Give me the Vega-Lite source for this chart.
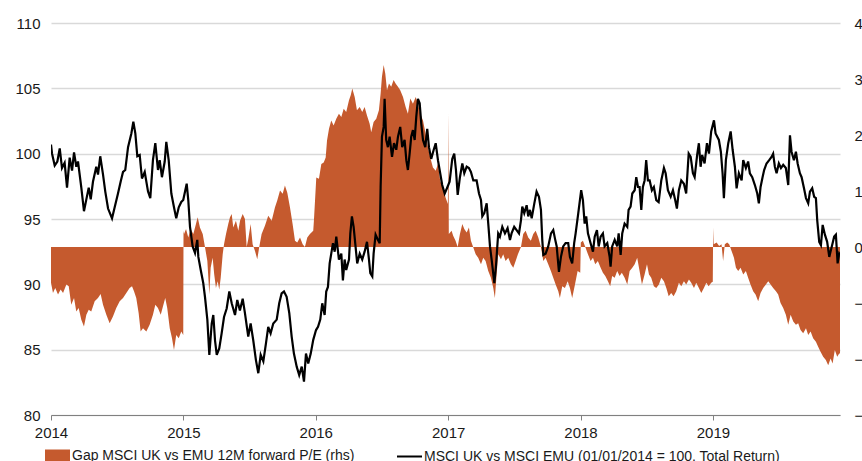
{
  "$schema": "https://vega.github.io/schema/vega-lite/v6.json",
  "width": 789,
  "height": 392,
  "autosize": "none",
  "padding": {"left": 51, "top": 23, "right": 22, "bottom": 46},
  "background": "white",
  "config": {
    "font": "Liberation Sans",
    "view": {"stroke": null},
    "axis": {"labelFont": "Liberation Sans", "labelFontSize": 15, "labelColor": "#1a1a1a", "title": null},
    "legend": {"labelFont": "Liberation Sans", "labelFontSize": 14, "labelColor": "#1a1a1a", "labelLimit": 0}
  },
  "datasets": {
    "line": [
      {"year": 2014.000, "value": 100.7}, {"year": 2014.008, "value": 100.0}, {"year": 2014.028, "value": 99.1}, {"year": 2014.048, "value": 99.4},
      {"year": 2014.066, "value": 100.4}, {"year": 2014.083, "value": 98.9}, {"year": 2014.103, "value": 99.3}, {"year": 2014.121, "value": 97.4},
      {"year": 2014.141, "value": 99.7}, {"year": 2014.159, "value": 98.7}, {"year": 2014.174, "value": 100.1}, {"year": 2014.191, "value": 99.0},
      {"year": 2014.204, "value": 99.4}, {"year": 2014.229, "value": 97.4}, {"year": 2014.249, "value": 95.6}, {"year": 2014.267, "value": 96.5},
      {"year": 2014.285, "value": 97.4}, {"year": 2014.300, "value": 96.5}, {"year": 2014.317, "value": 97.85}, {"year": 2014.342, "value": 99.0},
      {"year": 2014.355, "value": 98.4}, {"year": 2014.372, "value": 99.8}, {"year": 2014.393, "value": 98.4}, {"year": 2014.410, "value": 97.1},
      {"year": 2014.431, "value": 95.8}, {"year": 2014.461, "value": 95.05}, {"year": 2014.481, "value": 95.9}, {"year": 2014.506, "value": 96.95},
      {"year": 2014.526, "value": 97.85}, {"year": 2014.544, "value": 98.6}, {"year": 2014.561, "value": 98.75}, {"year": 2014.582, "value": 100.5},
      {"year": 2014.607, "value": 101.55}, {"year": 2014.622, "value": 102.45}, {"year": 2014.637, "value": 101.55}, {"year": 2014.652, "value": 99.8},
      {"year": 2014.670, "value": 99.9}, {"year": 2014.687, "value": 98.1}, {"year": 2014.708, "value": 98.6}, {"year": 2014.733, "value": 97.1},
      {"year": 2014.750, "value": 96.6}, {"year": 2014.770, "value": 99.5}, {"year": 2014.788, "value": 100.8}, {"year": 2014.808, "value": 98.75},
      {"year": 2014.821, "value": 99.5}, {"year": 2014.838, "value": 98.2}, {"year": 2014.859, "value": 99.4}, {"year": 2014.871, "value": 100.9},
      {"year": 2014.889, "value": 99.5}, {"year": 2014.909, "value": 96.95}, {"year": 2014.929, "value": 95.9}, {"year": 2014.946, "value": 95.05},
      {"year": 2014.965, "value": 95.9}, {"year": 2014.984, "value": 96.3}, {"year": 2014.999, "value": 96.45}, {"year": 2015.025, "value": 97.7},
      {"year": 2015.037, "value": 96.45}, {"year": 2015.050, "value": 94.4}, {"year": 2015.070, "value": 92.9}, {"year": 2015.088, "value": 92.4},
      {"year": 2015.105, "value": 93.4}, {"year": 2015.113, "value": 92.1}, {"year": 2015.131, "value": 91.1}, {"year": 2015.150, "value": 90.1},
      {"year": 2015.163, "value": 89.05}, {"year": 2015.181, "value": 87.3}, {"year": 2015.196, "value": 84.6}, {"year": 2015.214, "value": 87.0},
      {"year": 2015.226, "value": 87.65}, {"year": 2015.239, "value": 85.7}, {"year": 2015.252, "value": 84.6}, {"year": 2015.271, "value": 85.1},
      {"year": 2015.289, "value": 86.25}, {"year": 2015.307, "value": 87.5}, {"year": 2015.327, "value": 88.15}, {"year": 2015.347, "value": 89.45},
      {"year": 2015.365, "value": 88.55}, {"year": 2015.390, "value": 87.65}, {"year": 2015.407, "value": 88.8}, {"year": 2015.427, "value": 88.0},
      {"year": 2015.448, "value": 88.9}, {"year": 2015.465, "value": 87.8}, {"year": 2015.490, "value": 86.0}, {"year": 2015.508, "value": 87.0},
      {"year": 2015.528, "value": 85.7}, {"year": 2015.548, "value": 84.2}, {"year": 2015.566, "value": 83.2}, {"year": 2015.584, "value": 84.6},
      {"year": 2015.604, "value": 84.1}, {"year": 2015.624, "value": 85.5}, {"year": 2015.641, "value": 86.75}, {"year": 2015.659, "value": 86.25},
      {"year": 2015.679, "value": 87.0}, {"year": 2015.705, "value": 87.3}, {"year": 2015.724, "value": 88.55}, {"year": 2015.742, "value": 89.3},
      {"year": 2015.760, "value": 89.45}, {"year": 2015.780, "value": 89.05}, {"year": 2015.800, "value": 87.8}, {"year": 2015.818, "value": 86.0},
      {"year": 2015.835, "value": 84.7}, {"year": 2015.856, "value": 83.7}, {"year": 2015.875, "value": 83.05}, {"year": 2015.894, "value": 83.7},
      {"year": 2015.911, "value": 82.55}, {"year": 2015.926, "value": 84.7}, {"year": 2015.943, "value": 83.95}, {"year": 2015.962, "value": 84.7},
      {"year": 2015.981, "value": 85.75}, {"year": 2016.002, "value": 86.5}, {"year": 2016.017, "value": 86.75}, {"year": 2016.034, "value": 87.3},
      {"year": 2016.049, "value": 88.55}, {"year": 2016.067, "value": 87.65}, {"year": 2016.079, "value": 89.45}, {"year": 2016.092, "value": 89.8},
      {"year": 2016.105, "value": 91.6}, {"year": 2016.117, "value": 92.35}, {"year": 2016.130, "value": 93.15}, {"year": 2016.143, "value": 92.5},
      {"year": 2016.155, "value": 93.65}, {"year": 2016.175, "value": 91.9}, {"year": 2016.193, "value": 92.35}, {"year": 2016.205, "value": 90.3},
      {"year": 2016.218, "value": 91.9}, {"year": 2016.230, "value": 91.1}, {"year": 2016.251, "value": 91.9}, {"year": 2016.261, "value": 93.9},
      {"year": 2016.273, "value": 95.2}, {"year": 2016.286, "value": 94.4}, {"year": 2016.298, "value": 93.15}, {"year": 2016.313, "value": 91.6},
      {"year": 2016.332, "value": 92.35}, {"year": 2016.351, "value": 91.9}, {"year": 2016.369, "value": 92.5}, {"year": 2016.387, "value": 93.25},
      {"year": 2016.402, "value": 91.9}, {"year": 2016.412, "value": 90.85}, {"year": 2016.427, "value": 90.6}, {"year": 2016.437, "value": 92.35},
      {"year": 2016.452, "value": 93.8}, {"year": 2016.470, "value": 93.4}, {"year": 2016.483, "value": 93.15}, {"year": 2016.490, "value": 97.5},
      {"year": 2016.500, "value": 101.3}, {"year": 2016.513, "value": 102.05}, {"year": 2016.520, "value": 104.2}, {"year": 2016.532, "value": 101.05},
      {"year": 2016.545, "value": 100.5}, {"year": 2016.558, "value": 101.3}, {"year": 2016.576, "value": 99.75}, {"year": 2016.591, "value": 100.8},
      {"year": 2016.608, "value": 100.3}, {"year": 2016.621, "value": 101.3}, {"year": 2016.638, "value": 102.05}, {"year": 2016.653, "value": 100.5},
      {"year": 2016.671, "value": 101.05}, {"year": 2016.684, "value": 99.5}, {"year": 2016.696, "value": 98.75}, {"year": 2016.709, "value": 100.0},
      {"year": 2016.721, "value": 101.3}, {"year": 2016.734, "value": 101.8}, {"year": 2016.747, "value": 101.05}, {"year": 2016.759, "value": 102.8},
      {"year": 2016.772, "value": 104.2}, {"year": 2016.785, "value": 103.85}, {"year": 2016.797, "value": 102.3}, {"year": 2016.810, "value": 101.05},
      {"year": 2016.827, "value": 100.5}, {"year": 2016.842, "value": 101.9}, {"year": 2016.855, "value": 100.5}, {"year": 2016.872, "value": 99.6},
      {"year": 2016.891, "value": 100.3}, {"year": 2016.906, "value": 100.8}, {"year": 2016.923, "value": 99.5}, {"year": 2016.940, "value": 98.5},
      {"year": 2016.955, "value": 97.6}, {"year": 2016.974, "value": 96.95}, {"year": 2016.991, "value": 97.35}, {"year": 2017.011, "value": 97.85},
      {"year": 2017.031, "value": 99.6}, {"year": 2017.046, "value": 100.0}, {"year": 2017.059, "value": 98.75}, {"year": 2017.072, "value": 96.85},
      {"year": 2017.089, "value": 98.2}, {"year": 2017.107, "value": 99.25}, {"year": 2017.122, "value": 98.5}, {"year": 2017.140, "value": 99.0},
      {"year": 2017.157, "value": 98.9}, {"year": 2017.172, "value": 98.6}, {"year": 2017.190, "value": 97.95}, {"year": 2017.215, "value": 97.95},
      {"year": 2017.233, "value": 96.95}, {"year": 2017.248, "value": 96.45}, {"year": 2017.258, "value": 95.2}, {"year": 2017.273, "value": 95.45},
      {"year": 2017.291, "value": 96.2}, {"year": 2017.303, "value": 94.65}, {"year": 2017.316, "value": 92.9}, {"year": 2017.329, "value": 91.85},
      {"year": 2017.349, "value": 90.1}, {"year": 2017.361, "value": 91.35}, {"year": 2017.378, "value": 93.9}, {"year": 2017.391, "value": 93.65},
      {"year": 2017.409, "value": 94.4}, {"year": 2017.429, "value": 93.9}, {"year": 2017.449, "value": 94.3}, {"year": 2017.467, "value": 93.4},
      {"year": 2017.479, "value": 93.9}, {"year": 2017.499, "value": 94.4}, {"year": 2017.517, "value": 94.15}, {"year": 2017.535, "value": 93.9},
      {"year": 2017.550, "value": 94.9}, {"year": 2017.560, "value": 95.95}, {"year": 2017.575, "value": 95.45}, {"year": 2017.593, "value": 96.05},
      {"year": 2017.605, "value": 95.2}, {"year": 2017.618, "value": 95.7}, {"year": 2017.631, "value": 95.05}, {"year": 2017.651, "value": 96.2},
      {"year": 2017.668, "value": 97.1}, {"year": 2017.686, "value": 96.7}, {"year": 2017.701, "value": 95.7}, {"year": 2017.711, "value": 93.4},
      {"year": 2017.719, "value": 92.25}, {"year": 2017.736, "value": 92.35}, {"year": 2017.756, "value": 92.9}, {"year": 2017.777, "value": 93.9},
      {"year": 2017.794, "value": 94.15}, {"year": 2017.807, "value": 93.5}, {"year": 2017.820, "value": 92.9}, {"year": 2017.837, "value": 90.95},
      {"year": 2017.852, "value": 92.1}, {"year": 2017.869, "value": 92.9}, {"year": 2017.887, "value": 93.15}, {"year": 2017.907, "value": 93.15},
      {"year": 2017.920, "value": 92.1}, {"year": 2017.937, "value": 91.6}, {"year": 2017.952, "value": 93.15}, {"year": 2017.963, "value": 93.9},
      {"year": 2017.983, "value": 95.45}, {"year": 2018.005, "value": 97.2}, {"year": 2018.018, "value": 96.45}, {"year": 2018.031, "value": 94.65},
      {"year": 2018.043, "value": 95.2}, {"year": 2018.056, "value": 93.9}, {"year": 2018.076, "value": 93.15}, {"year": 2018.094, "value": 92.5},
      {"year": 2018.107, "value": 93.65}, {"year": 2018.124, "value": 94.15}, {"year": 2018.137, "value": 92.9}, {"year": 2018.152, "value": 93.65},
      {"year": 2018.169, "value": 93.9}, {"year": 2018.182, "value": 92.9}, {"year": 2018.202, "value": 93.15}, {"year": 2018.220, "value": 92.1},
      {"year": 2018.227, "value": 91.35}, {"year": 2018.239, "value": 92.9}, {"year": 2018.258, "value": 93.4}, {"year": 2018.277, "value": 92.9},
      {"year": 2018.288, "value": 93.9}, {"year": 2018.303, "value": 92.25}, {"year": 2018.315, "value": 93.9}, {"year": 2018.333, "value": 94.65},
      {"year": 2018.353, "value": 94.4}, {"year": 2018.363, "value": 95.7}, {"year": 2018.378, "value": 95.95}, {"year": 2018.391, "value": 96.95},
      {"year": 2018.409, "value": 97.2}, {"year": 2018.421, "value": 98.2}, {"year": 2018.434, "value": 97.45}, {"year": 2018.446, "value": 97.45},
      {"year": 2018.459, "value": 95.7}, {"year": 2018.471, "value": 97.45}, {"year": 2018.484, "value": 97.95}, {"year": 2018.496, "value": 99.5},
      {"year": 2018.509, "value": 97.95}, {"year": 2018.522, "value": 97.95}, {"year": 2018.539, "value": 97.2}, {"year": 2018.554, "value": 97.45},
      {"year": 2018.572, "value": 96.45}, {"year": 2018.590, "value": 96.3}, {"year": 2018.610, "value": 97.95}, {"year": 2018.630, "value": 98.9},
      {"year": 2018.643, "value": 98.5}, {"year": 2018.660, "value": 97.2}, {"year": 2018.681, "value": 96.7}, {"year": 2018.698, "value": 97.2},
      {"year": 2018.715, "value": 96.45}, {"year": 2018.728, "value": 95.8}, {"year": 2018.743, "value": 97.2}, {"year": 2018.761, "value": 97.95},
      {"year": 2018.781, "value": 97.7}, {"year": 2018.798, "value": 96.95}, {"year": 2018.817, "value": 100.0}, {"year": 2018.832, "value": 99.75},
      {"year": 2018.849, "value": 98.5}, {"year": 2018.862, "value": 98.2}, {"year": 2018.881, "value": 99.9}, {"year": 2018.894, "value": 100.8},
      {"year": 2018.907, "value": 99.0}, {"year": 2018.919, "value": 99.9}, {"year": 2018.937, "value": 99.25}, {"year": 2018.955, "value": 100.8},
      {"year": 2018.970, "value": 100.0}, {"year": 2018.987, "value": 101.7}, {"year": 2019.008, "value": 102.55}, {"year": 2019.020, "value": 101.55},
      {"year": 2019.045, "value": 101.05}, {"year": 2019.060, "value": 100.15}, {"year": 2019.073, "value": 98.5}, {"year": 2019.083, "value": 96.6},
      {"year": 2019.098, "value": 99.5}, {"year": 2019.116, "value": 100.8}, {"year": 2019.134, "value": 101.7}, {"year": 2019.149, "value": 100.3},
      {"year": 2019.166, "value": 99.0}, {"year": 2019.179, "value": 97.35}, {"year": 2019.196, "value": 98.5}, {"year": 2019.217, "value": 97.95},
      {"year": 2019.229, "value": 99.5}, {"year": 2019.249, "value": 98.9}, {"year": 2019.266, "value": 99.4}, {"year": 2019.279, "value": 98.5},
      {"year": 2019.297, "value": 98.2}, {"year": 2019.317, "value": 97.6}, {"year": 2019.335, "value": 96.95}, {"year": 2019.347, "value": 96.2},
      {"year": 2019.360, "value": 97.45}, {"year": 2019.375, "value": 98.2}, {"year": 2019.387, "value": 98.75}, {"year": 2019.405, "value": 99.25},
      {"year": 2019.425, "value": 99.5}, {"year": 2019.443, "value": 99.75}, {"year": 2019.455, "value": 100.0}, {"year": 2019.468, "value": 99.0},
      {"year": 2019.481, "value": 98.5}, {"year": 2019.498, "value": 99.25}, {"year": 2019.514, "value": 98.9}, {"year": 2019.531, "value": 99.15},
      {"year": 2019.551, "value": 98.9}, {"year": 2019.569, "value": 97.6}, {"year": 2019.582, "value": 101.4}, {"year": 2019.594, "value": 100.15},
      {"year": 2019.612, "value": 99.5}, {"year": 2019.627, "value": 100.15}, {"year": 2019.640, "value": 99.25}, {"year": 2019.657, "value": 98.5},
      {"year": 2019.670, "value": 98.2}, {"year": 2019.688, "value": 97.35}, {"year": 2019.703, "value": 96.6}, {"year": 2019.720, "value": 96.2},
      {"year": 2019.733, "value": 97.1}, {"year": 2019.750, "value": 97.35}, {"year": 2019.765, "value": 96.7}, {"year": 2019.778, "value": 96.6},
      {"year": 2019.788, "value": 94.9}, {"year": 2019.803, "value": 93.25}, {"year": 2019.816, "value": 93.0}, {"year": 2019.829, "value": 94.55},
      {"year": 2019.846, "value": 93.8}, {"year": 2019.863, "value": 93.25}, {"year": 2019.879, "value": 92.1}, {"year": 2019.891, "value": 92.6},
      {"year": 2019.904, "value": 93.15}, {"year": 2019.916, "value": 93.65}, {"year": 2019.929, "value": 93.8}, {"year": 2019.942, "value": 91.6},
      {"year": 2019.954, "value": 92.35}, {"year": 2019.960, "value": 92.25}
    ],
    "gap": [
      {"year": 2014.000, "gap": -0.64}, {"year": 2014.015, "gap": -0.82}, {"year": 2014.032, "gap": -0.73}, {"year": 2014.053, "gap": -0.85},
      {"year": 2014.073, "gap": -0.76}, {"year": 2014.091, "gap": -0.82}, {"year": 2014.116, "gap": -0.67}, {"year": 2014.134, "gap": -0.70},
      {"year": 2014.153, "gap": -1.03}, {"year": 2014.174, "gap": -0.91}, {"year": 2014.191, "gap": -1.15}, {"year": 2014.209, "gap": -1.09},
      {"year": 2014.229, "gap": -1.30}, {"year": 2014.249, "gap": -1.42}, {"year": 2014.267, "gap": -1.21}, {"year": 2014.285, "gap": -1.12},
      {"year": 2014.304, "gap": -1.15}, {"year": 2014.330, "gap": -0.97}, {"year": 2014.355, "gap": -0.91}, {"year": 2014.375, "gap": -0.84},
      {"year": 2014.393, "gap": -1.03}, {"year": 2014.418, "gap": -1.21}, {"year": 2014.443, "gap": -1.36}, {"year": 2014.468, "gap": -1.24},
      {"year": 2014.493, "gap": -1.09}, {"year": 2014.519, "gap": -0.97}, {"year": 2014.544, "gap": -0.91}, {"year": 2014.569, "gap": -0.82},
      {"year": 2014.594, "gap": -0.73}, {"year": 2014.612, "gap": -0.70}, {"year": 2014.627, "gap": -0.79}, {"year": 2014.644, "gap": -0.91},
      {"year": 2014.662, "gap": -1.18}, {"year": 2014.677, "gap": -1.51}, {"year": 2014.695, "gap": -1.45}, {"year": 2014.720, "gap": -1.51},
      {"year": 2014.745, "gap": -1.39}, {"year": 2014.770, "gap": -1.21}, {"year": 2014.788, "gap": -1.03}, {"year": 2014.808, "gap": -1.09},
      {"year": 2014.829, "gap": -1.21}, {"year": 2014.846, "gap": -1.06}, {"year": 2014.863, "gap": -0.91}, {"year": 2014.878, "gap": -1.09},
      {"year": 2014.897, "gap": -1.45}, {"year": 2014.914, "gap": -1.63}, {"year": 2014.929, "gap": -1.84}, {"year": 2014.946, "gap": -1.57},
      {"year": 2014.965, "gap": -1.63}, {"year": 2014.984, "gap": -1.51}, {"year": 2014.999, "gap": -1.57}, {"year": 2015.001, "gap": 0.29},
      {"year": 2015.005, "gap": 0.23}, {"year": 2015.020, "gap": 0.32}, {"year": 2015.037, "gap": 0.17}, {"year": 2015.055, "gap": 0.32},
      {"year": 2015.075, "gap": 0.23}, {"year": 2015.095, "gap": 0.41}, {"year": 2015.108, "gap": 0.53}, {"year": 2015.125, "gap": 0.35},
      {"year": 2015.146, "gap": 0.23}, {"year": 2015.163, "gap": 0.0}, {"year": 2015.181, "gap": -0.25}, {"year": 2015.196, "gap": -0.85},
      {"year": 2015.206, "gap": -0.37}, {"year": 2015.221, "gap": -0.19}, {"year": 2015.233, "gap": -0.49}, {"year": 2015.246, "gap": -0.73},
      {"year": 2015.259, "gap": -0.61}, {"year": 2015.271, "gap": -0.76}, {"year": 2015.282, "gap": -0.55}, {"year": 2015.297, "gap": -0.13},
      {"year": 2015.307, "gap": 0.05}, {"year": 2015.322, "gap": 0.23}, {"year": 2015.339, "gap": 0.41}, {"year": 2015.352, "gap": 0.53},
      {"year": 2015.365, "gap": 0.59}, {"year": 2015.377, "gap": 0.35}, {"year": 2015.397, "gap": 0.47}, {"year": 2015.415, "gap": 0.29},
      {"year": 2015.428, "gap": 0.47}, {"year": 2015.448, "gap": 0.59}, {"year": 2015.465, "gap": 0.50}, {"year": 2015.478, "gap": 0.0},
      {"year": 2015.490, "gap": 0.14}, {"year": 2015.508, "gap": 0.41}, {"year": 2015.523, "gap": 0.05}, {"year": 2015.541, "gap": -0.07},
      {"year": 2015.558, "gap": -0.22}, {"year": 2015.573, "gap": 0.0}, {"year": 2015.591, "gap": 0.23}, {"year": 2015.616, "gap": 0.38},
      {"year": 2015.641, "gap": 0.56}, {"year": 2015.667, "gap": 0.47}, {"year": 2015.692, "gap": 0.71}, {"year": 2015.709, "gap": 0.83},
      {"year": 2015.730, "gap": 1.01}, {"year": 2015.750, "gap": 0.95}, {"year": 2015.767, "gap": 1.10}, {"year": 2015.785, "gap": 0.97},
      {"year": 2015.805, "gap": 0.71}, {"year": 2015.825, "gap": 0.41}, {"year": 2015.843, "gap": 0.11}, {"year": 2015.860, "gap": 0.08},
      {"year": 2015.881, "gap": 0.17}, {"year": 2015.901, "gap": 0.05}, {"year": 2015.918, "gap": 0.0}, {"year": 2015.936, "gap": 0.17},
      {"year": 2015.956, "gap": 0.23}, {"year": 2015.981, "gap": 0.29}, {"year": 2015.986, "gap": 0.47}, {"year": 2016.004, "gap": 1.24},
      {"year": 2016.024, "gap": 1.22}, {"year": 2016.042, "gap": 1.48}, {"year": 2016.060, "gap": 1.51}, {"year": 2016.075, "gap": 1.60},
      {"year": 2016.085, "gap": 1.90}, {"year": 2016.100, "gap": 2.11}, {"year": 2016.117, "gap": 2.26}, {"year": 2016.135, "gap": 2.17},
      {"year": 2016.155, "gap": 2.29}, {"year": 2016.175, "gap": 2.38}, {"year": 2016.193, "gap": 2.32}, {"year": 2016.211, "gap": 2.47},
      {"year": 2016.230, "gap": 2.41}, {"year": 2016.251, "gap": 2.62}, {"year": 2016.264, "gap": 2.71}, {"year": 2016.276, "gap": 2.83},
      {"year": 2016.294, "gap": 2.68}, {"year": 2016.311, "gap": 2.44}, {"year": 2016.332, "gap": 2.50}, {"year": 2016.351, "gap": 2.41},
      {"year": 2016.369, "gap": 2.50}, {"year": 2016.387, "gap": 2.35}, {"year": 2016.407, "gap": 2.20}, {"year": 2016.419, "gap": 2.05},
      {"year": 2016.437, "gap": 2.23}, {"year": 2016.457, "gap": 2.29}, {"year": 2016.477, "gap": 2.44}, {"year": 2016.490, "gap": 2.74},
      {"year": 2016.500, "gap": 3.04}, {"year": 2016.513, "gap": 3.25}, {"year": 2016.525, "gap": 3.10}, {"year": 2016.538, "gap": 2.80},
      {"year": 2016.553, "gap": 2.92}, {"year": 2016.570, "gap": 2.86}, {"year": 2016.588, "gap": 2.98}, {"year": 2016.603, "gap": 2.92},
      {"year": 2016.621, "gap": 2.86}, {"year": 2016.638, "gap": 2.80}, {"year": 2016.659, "gap": 2.68}, {"year": 2016.679, "gap": 2.50},
      {"year": 2016.696, "gap": 2.38}, {"year": 2016.714, "gap": 2.65}, {"year": 2016.734, "gap": 2.56}, {"year": 2016.755, "gap": 2.68},
      {"year": 2016.772, "gap": 2.56}, {"year": 2016.789, "gap": 2.38}, {"year": 2016.810, "gap": 2.26}, {"year": 2016.830, "gap": 2.02},
      {"year": 2016.847, "gap": 1.78}, {"year": 2016.865, "gap": 1.60}, {"year": 2016.885, "gap": 1.42}, {"year": 2016.906, "gap": 1.36},
      {"year": 2016.923, "gap": 1.48}, {"year": 2016.940, "gap": 1.18}, {"year": 2016.961, "gap": 1.06}, {"year": 2016.981, "gap": 0.88},
      {"year": 2016.998, "gap": 0.77}, {"year": 2017.002, "gap": 2.4}, {"year": 2017.005, "gap": 0.23}, {"year": 2017.026, "gap": 0.29},
      {"year": 2017.038, "gap": 0.20}, {"year": 2017.056, "gap": 0.11}, {"year": 2017.072, "gap": 0.0}, {"year": 2017.089, "gap": 0.23},
      {"year": 2017.107, "gap": 0.41}, {"year": 2017.122, "gap": 0.32}, {"year": 2017.140, "gap": 0.26}, {"year": 2017.157, "gap": 0.35},
      {"year": 2017.172, "gap": 0.11}, {"year": 2017.190, "gap": -0.01}, {"year": 2017.208, "gap": -0.13}, {"year": 2017.227, "gap": -0.19},
      {"year": 2017.248, "gap": -0.31}, {"year": 2017.265, "gap": -0.19}, {"year": 2017.283, "gap": -0.25}, {"year": 2017.303, "gap": -0.43},
      {"year": 2017.323, "gap": -0.55}, {"year": 2017.341, "gap": -0.73}, {"year": 2017.353, "gap": -0.91}, {"year": 2017.366, "gap": -0.49},
      {"year": 2017.378, "gap": -0.13}, {"year": 2017.399, "gap": -0.22}, {"year": 2017.416, "gap": -0.13}, {"year": 2017.434, "gap": -0.25},
      {"year": 2017.454, "gap": -0.19}, {"year": 2017.474, "gap": -0.31}, {"year": 2017.492, "gap": -0.37}, {"year": 2017.510, "gap": -0.25},
      {"year": 2017.527, "gap": -0.13}, {"year": 2017.550, "gap": 0.0}, {"year": 2017.567, "gap": 0.23}, {"year": 2017.585, "gap": 0.29},
      {"year": 2017.605, "gap": 0.17}, {"year": 2017.625, "gap": 0.11}, {"year": 2017.643, "gap": 0.23}, {"year": 2017.661, "gap": 0.29},
      {"year": 2017.681, "gap": 0.17}, {"year": 2017.701, "gap": 0.0}, {"year": 2017.719, "gap": -0.25}, {"year": 2017.736, "gap": -0.19},
      {"year": 2017.756, "gap": -0.31}, {"year": 2017.776, "gap": -0.43}, {"year": 2017.794, "gap": -0.55}, {"year": 2017.812, "gap": -0.67},
      {"year": 2017.832, "gap": -0.79}, {"year": 2017.844, "gap": -0.91}, {"year": 2017.862, "gap": -0.70}, {"year": 2017.882, "gap": -0.73},
      {"year": 2017.903, "gap": -0.61}, {"year": 2017.920, "gap": -0.73}, {"year": 2017.937, "gap": -0.91}, {"year": 2017.958, "gap": -0.67},
      {"year": 2017.978, "gap": -0.43}, {"year": 2017.998, "gap": -0.46}, {"year": 2018.002, "gap": 0.08}, {"year": 2018.018, "gap": 0.11},
      {"year": 2018.036, "gap": 0.0}, {"year": 2018.056, "gap": -0.13}, {"year": 2018.076, "gap": -0.25}, {"year": 2018.094, "gap": -0.19},
      {"year": 2018.111, "gap": -0.31}, {"year": 2018.131, "gap": -0.25}, {"year": 2018.152, "gap": -0.37}, {"year": 2018.169, "gap": -0.46},
      {"year": 2018.187, "gap": -0.52}, {"year": 2018.207, "gap": -0.61}, {"year": 2018.224, "gap": -0.70}, {"year": 2018.239, "gap": -0.52},
      {"year": 2018.258, "gap": -0.55}, {"year": 2018.277, "gap": -0.43}, {"year": 2018.295, "gap": -0.52}, {"year": 2018.312, "gap": -0.46},
      {"year": 2018.333, "gap": -0.55}, {"year": 2018.353, "gap": -0.67}, {"year": 2018.371, "gap": -0.43}, {"year": 2018.391, "gap": -0.37},
      {"year": 2018.409, "gap": -0.31}, {"year": 2018.428, "gap": -0.19}, {"year": 2018.446, "gap": -0.43}, {"year": 2018.464, "gap": -0.67},
      {"year": 2018.484, "gap": -0.49}, {"year": 2018.502, "gap": -0.31}, {"year": 2018.517, "gap": -0.49}, {"year": 2018.534, "gap": -0.55},
      {"year": 2018.554, "gap": -0.70}, {"year": 2018.572, "gap": -0.73}, {"year": 2018.592, "gap": -0.67}, {"year": 2018.610, "gap": -0.55},
      {"year": 2018.630, "gap": -0.61}, {"year": 2018.648, "gap": -0.73}, {"year": 2018.666, "gap": -0.88}, {"year": 2018.685, "gap": -0.82},
      {"year": 2018.703, "gap": -0.88}, {"year": 2018.723, "gap": -0.79}, {"year": 2018.743, "gap": -0.64}, {"year": 2018.761, "gap": -0.70},
      {"year": 2018.781, "gap": -0.61}, {"year": 2018.798, "gap": -0.67}, {"year": 2018.819, "gap": -0.58}, {"year": 2018.836, "gap": -0.64},
      {"year": 2018.857, "gap": -0.73}, {"year": 2018.874, "gap": -0.64}, {"year": 2018.894, "gap": -0.73}, {"year": 2018.912, "gap": -0.82},
      {"year": 2018.932, "gap": -0.73}, {"year": 2018.950, "gap": -0.64}, {"year": 2018.968, "gap": -0.70}, {"year": 2018.987, "gap": -0.64},
      {"year": 2018.999, "gap": -0.62}, {"year": 2019.002, "gap": 0.35}, {"year": 2019.006, "gap": 0.05}, {"year": 2019.028, "gap": 0.08},
      {"year": 2019.047, "gap": 0.02}, {"year": 2019.065, "gap": 0.05}, {"year": 2019.077, "gap": -0.25}, {"year": 2019.090, "gap": 0.05},
      {"year": 2019.108, "gap": 0.08}, {"year": 2019.123, "gap": 0.05}, {"year": 2019.141, "gap": -0.07}, {"year": 2019.159, "gap": -0.19},
      {"year": 2019.174, "gap": -0.37}, {"year": 2019.191, "gap": -0.43}, {"year": 2019.209, "gap": -0.37}, {"year": 2019.229, "gap": -0.49},
      {"year": 2019.249, "gap": -0.43}, {"year": 2019.266, "gap": -0.55}, {"year": 2019.284, "gap": -0.67}, {"year": 2019.304, "gap": -0.79},
      {"year": 2019.322, "gap": -0.85}, {"year": 2019.342, "gap": -0.97}, {"year": 2019.360, "gap": -0.82}, {"year": 2019.380, "gap": -0.73},
      {"year": 2019.400, "gap": -0.67}, {"year": 2019.418, "gap": -0.61}, {"year": 2019.436, "gap": -0.67}, {"year": 2019.455, "gap": -0.73},
      {"year": 2019.476, "gap": -0.79}, {"year": 2019.493, "gap": -0.85}, {"year": 2019.511, "gap": -1.00}, {"year": 2019.531, "gap": -1.09},
      {"year": 2019.551, "gap": -1.21}, {"year": 2019.569, "gap": -1.39}, {"year": 2019.587, "gap": -1.21}, {"year": 2019.607, "gap": -1.33},
      {"year": 2019.627, "gap": -1.39}, {"year": 2019.644, "gap": -1.36}, {"year": 2019.662, "gap": -1.48}, {"year": 2019.682, "gap": -1.54},
      {"year": 2019.703, "gap": -1.45}, {"year": 2019.720, "gap": -1.57}, {"year": 2019.738, "gap": -1.51}, {"year": 2019.757, "gap": -1.63},
      {"year": 2019.778, "gap": -1.69}, {"year": 2019.795, "gap": -1.78}, {"year": 2019.813, "gap": -1.87}, {"year": 2019.833, "gap": -1.96},
      {"year": 2019.853, "gap": -2.02}, {"year": 2019.871, "gap": -2.11}, {"year": 2019.889, "gap": -1.99}, {"year": 2019.904, "gap": -2.08},
      {"year": 2019.921, "gap": -1.84}, {"year": 2019.939, "gap": -1.96}, {"year": 2019.954, "gap": -1.90}, {"year": 2019.960, "gap": -1.90}
    ]
  },
  "layer": [
    {
      "data": {"name": "gap"},
      "mark": {"type": "area", "clip": true, "interpolate": "linear"},
      "encoding": {
        "x": {"field": "year", "type": "quantitative", "scale": {"domain": [2014, 2019.96], "nice": false, "zero": false},
              "axis": {"values": [2014, 2015, 2016, 2017, 2018, 2019], "format": "d", "grid": false, "domain": true, "domainColor": "#808080", "ticks": true, "tickColor": "#808080", "tickSize": 5, "labelPadding": 5, "labelFlush": false}},
        "y": {"field": "gap", "type": "quantitative", "scale": {"domain": [-3, 4], "nice": false},
              "axis": {"orient": "right", "values": [-3, -2, -1, 0, 1, 2, 3, 4], "grid": false, "domain": false, "ticks": false, "labelAlign": "left", "labelPadding": 14}},
        "y2": {"datum": 0},
        "fill": {"datum": "Gap MSCI UK vs EMU 12M forward P/E (rhs)", "type": "nominal", "scale": {"range": ["#C55A2E"]},
                 "legend": {"orient": "none", "legendX": -6, "legendY": 420, "title": null, "symbolType": "M-1,-0.48H1V0.48H-1Z", "symbolSize": 625, "symbolStrokeWidth": 0, "symbolOpacity": 1, "labelOffset": 2}}
      }
    },
    {
      "data": {"name": "line"},
      "mark": {"type": "line", "clip": true, "strokeWidth": 2.2},
      "encoding": {
        "x": {"field": "year", "type": "quantitative", "scale": {"domain": [2014, 2019.96], "nice": false, "zero": false}},
        "y": {"field": "value", "type": "quantitative", "scale": {"domain": [80, 110], "nice": false, "zero": false},
              "axis": {"orient": "left", "values": [80, 85, 90, 95, 100, 105, 110], "grid": true, "gridColor": "#d9d9d9", "gridWidth": 1.3, "domain": false, "ticks": false, "labelPadding": 11}},
        "stroke": {"datum": "MSCI UK vs MSCI EMU (01/01/2014 = 100, Total Return)", "type": "nominal", "scale": {"range": ["#000000"]},
                   "legend": {"orient": "none", "legendX": 345, "legendY": 420, "title": null, "symbolType": "stroke", "symbolSize": 625, "symbolStrokeWidth": 2, "labelOffset": 1}}
      }
    }
  ],
  "resolve": {"scale": {"y": "independent", "fill": "independent", "stroke": "independent"}}
}
